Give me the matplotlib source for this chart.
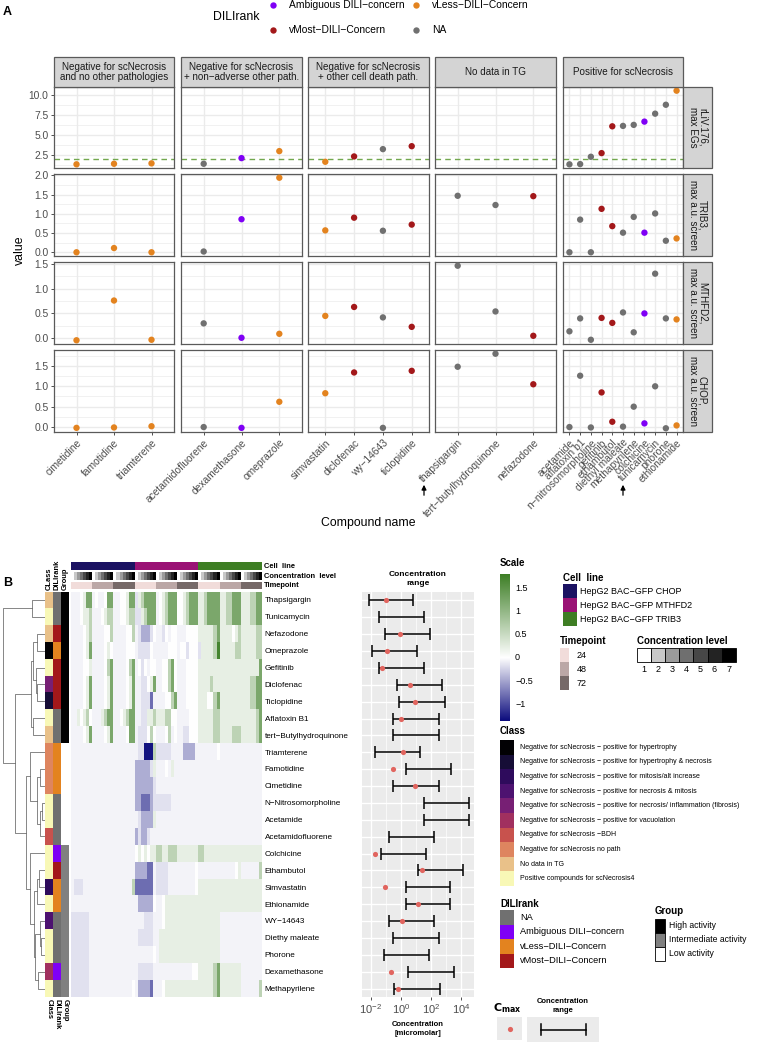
import numpy as np
import matplotlib
matplotlib.use('Agg')
import matplotlib.pyplot as plt
from matplotlib.colors import LinearSegmentedColormap, Normalize, ListedColormap, to_rgb
from matplotlib.patches import Rectangle

plt.rcParams['font.family'] = ['Liberation Sans', 'DejaVu Sans']

# ---------------- panel A data ----------------
facet_titles = ['Negative for scNecrosis\nand no other pathologies',
                'Negative for scNecrosis\n+ non\u2212adverse other path.',
                'Negative for scNecrosis\n+ other cell death path.',
                'No data in TG',
                'Positive for scNecrosis']
col_compounds = [
    ['cimetidine', 'famotidine', 'triamterene'],
    ['acetamidofluorene', 'dexamethasone', 'omeprazole'],
    ['simvastatin', 'diclofenac', 'wy\u221214643', 'ticlopidine'],
    ['thapsigargin', 'tert\u2212butylhydroquinone', 'nefazodone'],
    ['acetamide', 'aflatoxin b1', 'n\u2212nitrosomorpholine', 'gefitinib', 'ethambutol',
     'diethyl maleate', 'methapyrilene', 'colchicine', 'tunicamycin', 'phorone', 'ethionamide'],
]
dili_a = ['vLess', 'vLess', 'vLess', 'NA', 'Ambiguous', 'vLess', 'vLess', 'vMost', 'NA', 'vMost',
          'NA', 'NA', 'vMost', 'NA', 'NA', 'NA', 'vMost', 'vMost', 'NA', 'NA', 'Ambiguous', 'NA', 'NA', 'vLess']
rliv_max = [1.34, 1.41, 1.46, 1.41, 2.12, 3.0, 1.66, 2.33, 3.25, 3.62, np.nan, np.nan, np.nan,
            1.34, 1.37, 2.29, 2.75, 6.12, 6.17, 6.3, 6.71, 7.71, 8.83, 10.6]
trib3_a = [0.0, 0.11, 0.0, 0.02, 0.86, 1.94, 0.57, 0.9, 0.56, 0.72, 1.47, 1.23, 1.46,
           0.0, 0.85, 0.0, 1.13, 0.68, 0.51, 0.92, 0.51, 1.01, 0.30, 0.36]
mthfd2_a = [-0.04, 0.76, -0.03, 0.30, 0.01, 0.09, 0.45, 0.63, 0.42, 0.23, 1.46, 0.54, 0.05,
            0.14, 0.40, -0.03, 0.41, 0.31, 0.52, 0.12, 0.50, 1.30, 0.40, 0.38]
chop_a = [-0.02, -0.01, 0.02, 0.0, -0.02, 0.62, 0.83, 1.34, -0.02, 1.38, 1.48, 1.80, 1.05,
          0.0, 1.26, -0.01, 0.85, 0.13, 0.01, 0.5, 0.09, 1.0, -0.03, 0.04]
row_titles = ['rLiV.176,\nmax EGs', 'TRIB3,\nmax a.u. screen', 'MTHFD2,\nmax a.u. screen', 'CHOP,\nmax a.u. screen']
row_breaks = [[2.5, 5.0, 7.5, 10.0], [0, 0.5, 1.0, 1.5, 2.0], [0, 0.5, 1.0, 1.5], [0, 0.5, 1.0, 1.5]]
rliv_threshold = 2.04

dili_labels = {'Ambiguous': 'Ambiguous DILI\u2212concern', 'vLess': 'vLess\u2212DILI\u2212Concern',
               'vMost': 'vMost\u2212DILI\u2212Concern', 'NA': 'NA'}
dili_colors = {'Ambiguous': '#7F00F5', 'vLess': '#E3831F', 'vMost': '#A3181A', 'NA': '#707070'}

# ---------------- panel B data ----------------
hm_compounds = ['Thapsigargin', 'Tunicamycin', 'Nefazodone', 'Omeprazole', 'Gefitinib', 'Diclofenac',
                'Ticlopidine', 'Aflatoxin B1', 'tert\u2212Butylhydroquinone', 'Triamterene', 'Famotidine',
                'Cimetidine', 'N\u2212Nitrosomorpholine', 'Acetamide', 'Acetamidofluorene', 'Colchicine',
                'Ethambutol', 'Simvastatin', 'Ethionamide', 'WY\u221214643', 'Diethy maleate', 'Phorone',
                'Dexamethasone', 'Methapyrilene']
class_names = ['Negative for scNecrosis \u2212 positive for hypertrophy',
               'Negative for scNecrosis \u2212 positive for hypertrophy & necrosis',
               'Negative for scNecrosis \u2212 positive for mitosis/alt increase',
               'Negative for scNecrosis \u2212 positive for necrosis & mitosis',
               'Negative for scNecrosis \u2212 positive for necrosis/ inflammation (fibrosis)',
               'Negative for scNecrosis \u2212 positive for vacuolation',
               'Negative for scNecrosis \u2212BDH',
               'Negative for scNecrosis no path',
               'No data in TG',
               'Positive compounds for scNecrosis4']
class_colors = ['#020104', '#160D36', '#2E0B5C', '#4D1270', '#771F74', '#A1305F',
                '#C8524D', '#DE855F', '#E9C189', '#F8F8B6']
hm_class = [8, 9, 8, 0, 9, 4, 1, 9, 8, 7, 7, 7, 9, 9, 6, 9, 9, 2, 9, 3, 9, 9, 5, 9]
hm_dili = ['NA', 'NA', 'vMost', 'vLess', 'vMost', 'vMost', 'vMost', 'NA', 'NA', 'vLess', 'vLess', 'vLess',
           'NA', 'NA', 'NA', 'Ambiguous', 'vMost', 'vLess', 'vLess', 'NA', 'NA', 'NA', 'Ambiguous', 'NA']
hm_dili_order = ['NA', 'Ambiguous', 'vLess', 'vMost']
group_names = ['High activity', 'Intermediate activity', 'Low activity']
group_colors = ['#000000', '#808080', '#FFFFFF']
hm_group = [0] * 9 + [2] * 6 + [1] * 9

cell_lines = ['HepG2 BAC\u2212GFP CHOP', 'HepG2 BAC\u2212GFP MTHFD2', 'HepG2 BAC\u2212GFP TRIB3']
cell_colors = ['#1B1262', '#9A1275', '#3E7E24']
timepoints = ['24', '48', '72']
time_colors = ['#F1DCDA', '#BBA7A6', '#766968']
conc_levels = ['1', '2', '3', '4', '5', '6', '7']
conc_colors = ['#FFFFFF', '#C8C8C8', '#9B9B9B', '#6F6F6F', '#474747', '#232323', '#000000']

# heatmap values, one string per compound (cell line x timepoint x concentration level blocks)
code_values = {'N': -1.3, 'P': -0.8, 'p': -0.45, 'q': -0.16, 'r': -0.06, '.': 0.0,
               'l': 0.22, 'm': 0.6, 'g': 1.2, 'G': 1.7}
hm_rows = [
    "rrr.lgg r.rr.gg rr..lgg qlmgggg r.lmggg ..lmggg llmgggg llmmggg lllmmgg",
    "rrr.llm rrr.lmm rr..lmm qqlmggg r.lmggg ..lmggg llmgggg llmmggg lllmmgg",
    "rrrr.lm rrrr..m rrrr..m rqpppq. rrq.r.. rrr.... lllllmg llll.lm lllllmm",
    "rrrr.lg rrrr.l. rrrr... rqqqq.r rrrr... r..q... qllllmG lllllmm lllllmm",
    "rrrr..l rrrr.mg rrrr.mg r.q.r.. rr..mg. rrr.... lllllll lllllll llllllg",
    "rrrr.lg rrrr.lg rrrr.lg rrqq.lg rr..mg. rrr.... llllmll lllllll lllmmgg",
    "rrrr.lg rrrr.lg rrrr.lg rrqqqPr rrr..mg rrr.... lll..mg lllllll lllmmgg",
    "rrl.lm. rrrlmgg rr.lmgg rrqqllm lllmm.. rrrr... lllllmm lllllll lllllmg",
    "rrrr.lg rrrr.lg rrrr.gg rqqq.m. rrr.mr. rrqq... lllllmm llllmmm lllllmg",
    "rrrrrrr rrrrrrr rrrrrrr rqqNNNm qqqqqrr rrppppr rrrrrr. rrrrrrr rrrrrrr",
    "rrrrrrr rrrrrrr rrrrrrr pppppql rrr.rlr rrrrrrr rrrrrrr rrrrrrr rrrrrrr",
    "rrrrrrr rrrrrrr rrrrrrr ppppppq rrrrrrr rrrrrrr rrrrrrr rrrrrrr rrrrrrr",
    "rrrrrrr rrrrrrr rrrrrrr ppPPPpq qqqqqrr rrrrrrr rrrrrrr rrrrrrr rrrrrrr",
    "rrrrrrr rrrrrrr rrrrrrr rqppppl rrrrrrr rrrrrrr rrrrrrr rrrrrrr rrrrrrr",
    "rrrrrrr rrrrrrr rrrrrrr pqppqrr rrrrrrr rrrrrrr rrrrrrr rrrrrrr rrrrrrr",
    "rrrrrrr rrrrrrr rrrrrrr .l.l.ll mmllmmm lllllll mmlllll lllllll lllllll",
    "rrrrrrr rrrrrrr rrrrrrr ppppPPr qqqqrrr rrrrrr. rrrrrrr rrrrr.l rrrrrrm",
    "rqqqrrr rrrrrrr rrrrrrm PPPPPPr qqqqrrr rrrrrr. lllllll lllllll lllllll",
    "rrrrrrr rrrrrrr rrrrrrr rppppp. rr.llll lllllll lllllll lllllll lllllll",
    "qqqqqqr rrrrrrr rrrrrrr rrrqqqr rr.llll lllllll lllllll rrrrrrr rrrrrrr",
    "qqqqqqr rrrrrrr rrrrrrr rqqqqqr rllllll lllllll lllllll rrrrrrr rrrrrrr",
    "qqqqqqr rrrrrrr rrrrrrr rrrrrr. rllllll lllllll lllllll rrrrrrr rrrrrrr",
    "qqqqqqr rrrrrrr rrrrrrr rqqqqqr rrrrrrr rrrrr.. lllllmg lllllll rrrrrrr",
    "qqqqqqr rrrrrrr rrrrrr. rppppPr rr.llll lllllll lllllmg lllllll rrrrrrm",
]

# dendrogram: (height, left, right), leaves are row indices
dendro_tree = (1.0,
               (0.31, 0, 1),
               (0.70,
                (0.34, (0.29, (0.19, 2, 3), (0.21, 4, (0.19, 5, 6))), (0.29, 7, 8)),
                (0.45,
                 (0.36, 9, (0.18, (0.12, 10, 11), (0.12, (0.08, 12, 13), 14))),
                 (0.36, 15, (0.26, (0.19, (0.14, 16, 17), 18),
                             (0.24, (0.12, 19, (0.1, 20, 21)), (0.16, 22, 23)))))))

# concentration range (micromolar) and Cmax
conc_low = [0.0074, 0.034, 0.083, 0.0126, 0.035, 0.57, 0.81, 0.32, 0.32, 0.019, 2.3, 0.32,
            33, 33, 0.17, 0.05, 13, 2.1, 2.1, 0.16, 0.32, 0.079, 3.0, 0.38]
conc_high = [6.0, 35, 85, 12.6, 33, 500, 830, 316, 316, 18.6, 2200, 316,
             32000, 32000, 166, 49, 13800, 1900, 1900, 158, 316, 78, 3100, 390]
cmax = [0.105, np.nan, 0.89, 0.13, 0.056, 4.3, 8.3, 1.05, np.nan, 1.4, 0.30, 9.3,
        np.nan, np.nan, np.nan, 0.021, 24.5, 0.083, 13.8, 1.23, np.nan, np.nan, 0.22, 0.66]

# ---------------- figure ----------------
W, H = 758, 1042
fig = plt.figure(figsize=(W / 100, H / 100), dpi=100)


def ax_px(x0, y0, x1, y1):
    return fig.add_axes([x0 / W, 1 - y1 / H, (x1 - x0) / W, (y1 - y0) / H])


ov = fig.add_axes([0, 0, 1, 1])
ov.set_xlim(0, W)
ov.set_ylim(H, 0)
ov.axis('off')
ov.set_zorder(10)

TXT = '#1A1A1A'
GRID = '#EBEBEB'

# ---------- panel A ----------
col_x = [(54, 174), (181, 302), (308, 429), (435, 556), (563, 683)]
row_y = [(87, 168), (174, 256), (262, 344), (350, 432)]
row_vals = [np.array(rliv_max), np.array(trib3_a), np.array(mthfd2_a), np.array(chop_a)]

start = 0
for c, comps in enumerate(col_compounds):
    n = len(comps)
    idx = np.arange(start, start + n)
    start += n
    for r in range(4):
        allv = row_vals[r]
        lo, hi = np.nanmin(allv), np.nanmax(allv)
        pad = 0.05 * (hi - lo)
        ax = ax_px(col_x[c][0], row_y[r][0], col_x[c][1], row_y[r][1])
        ax.set_xlim(-0.6, n - 0.4)
        ax.set_ylim(lo - pad, hi + pad)
        br = row_breaks[r]
        step = br[1] - br[0]
        minors = [b - step / 2 for b in br] + [br[-1] + step / 2]
        for m in minors:
            ax.axhline(m, color=GRID, lw=0.5, zorder=0)
        for b in br:
            ax.axhline(b, color=GRID, lw=1.0, zorder=0)
        for x in range(n):
            ax.axvline(x, color=GRID, lw=1.0, zorder=0)
        if r == 0:
            ax.axhline(rliv_threshold, color='#72A84E', lw=1.0, ls=(0, (4, 3)), zorder=1)
        vals = allv[idx]
        cols = [dili_colors[dili_a[i]] for i in idx]
        ax.scatter(np.arange(n), vals, c=cols, s=21, linewidths=0, zorder=3)
        for s in ax.spines.values():
            s.set_color('#5A5A5A')
            s.set_linewidth(0.9)
        ax.set_yticks(br)
        ax.set_xticks(np.arange(n))
        ax.tick_params(length=2.5, width=0.6, color='#333333', labelsize=7.4,
                       labelcolor='#4D4D4D', pad=1.5)
        if c == 0:
            ax.set_yticklabels([f'{b:.1f}' for b in br])
        else:
            ax.tick_params(axis='y', length=0, labelleft=False)
        if r == 3:
            ax.set_xticklabels(comps, rotation=45, ha='right', rotation_mode='anchor')
        else:
            ax.tick_params(axis='x', length=0, labelbottom=False)

# strips
for c in range(5):
    x0, x1 = col_x[c]
    ov.add_patch(Rectangle((x0, 57), x1 - x0, 30, facecolor='#D4D4D4', edgecolor='#5A5A5A', lw=0.9))
    ov.text((x0 + x1) / 2, 72, facet_titles[c], ha='center', va='center', fontsize=7.1,
            color=TXT, linespacing=1.0)
for r in range(4):
    y0, y1 = row_y[r]
    ov.add_patch(Rectangle((683, y0), 29, y1 - y0, facecolor='#D4D4D4', edgecolor='#5A5A5A', lw=0.9))
    ov.text(697.5, (y0 + y1) / 2, row_titles[r], ha='center', va='center', fontsize=7.1,
            color=TXT, rotation=-90, linespacing=1.0)

ov.text(368, 523, 'Compound name', ha='center', va='center', fontsize=8.8, color='black')
ov.text(20, 250, 'value', ha='center', va='center', fontsize=8.8, rotation=90, color='black')
for xa in (424, 623):
    ov.annotate('', xy=(xa, 482), xytext=(xa, 498),
                arrowprops=dict(arrowstyle='-|>', color='black', lw=0.9, mutation_scale=7))

ov.text(3, 12, 'A', fontsize=9, fontweight='bold', ha='left', va='center')
ov.text(213, 17, 'DILIrank', fontsize=8.8, ha='left', va='center')
leg_pos = {'Ambiguous': (273, 5), 'vMost': (273, 30), 'vLess': (416, 5), 'NA': (416, 30)}
for k, (lx, ly) in leg_pos.items():
    ov.scatter([lx], [ly], s=21, color=dili_colors[k], linewidths=0)
    ov.text(lx + 16, ly, dili_labels[k], fontsize=7.4, ha='left', va='center', color='black')

# ---------- panel B ----------
ov.text(3, 583, 'B', fontsize=9, fontweight='bold', ha='left', va='center')

HM_TOP, HM_BOT = 591.5, 997
hm = np.array([[code_values[ch] for ch in row.replace(' ', '')] for row in hm_rows])
assert hm.shape == (24, 63)
vmin, vmax = -1.35, 1.8
cmap = LinearSegmentedColormap.from_list(
    'hm', [(0, '#0B0B7D'), (-vmin / (vmax - vmin), '#FFFFFF'), (1, '#3B7D23')])
norm = Normalize(vmin, vmax)

axh = ax_px(71, HM_TOP, 262, HM_BOT)
axh.imshow(hm, cmap=cmap, norm=norm, aspect='auto', interpolation='nearest')
axh.set_xticks([])
axh.yaxis.tick_right()
axh.set_yticks(np.arange(len(hm_compounds)))
axh.set_yticklabels(hm_compounds, fontsize=5.9)
axh.tick_params(axis='y', length=0, pad=2)
for s in axh.spines.values():
    s.set_visible(False)

# top annotations
cell_idx = np.repeat(np.arange(3), 21)[None, :]
conc_idx = np.tile(np.arange(7), 9)[None, :]
time_idx = np.tile(np.repeat(np.arange(3), 7), 3)[None, :]
for (y0, y1), idx, colors, lab in [((562, 570), cell_idx, cell_colors, 'Cell  line'),
                                   ((572, 580), conc_idx, conc_colors, 'Concentration  level'),
                                   ((582, 589), time_idx, time_colors, 'Timepoint')]:
    a = ax_px(71, y0, 262, y1)
    a.imshow(idx, cmap=ListedColormap(colors), vmin=-0.5, vmax=len(colors) - 0.5,
             aspect='auto', interpolation='nearest')
    a.axis('off')
    ov.text(264, (y0 + y1) / 2, lab, fontsize=5.4, fontweight='bold', ha='left', va='center')

# left annotations
ann = np.zeros((24, 3, 3))
for i in range(24):
    ann[i, 0] = to_rgb(class_colors[hm_class[i]])
    ann[i, 1] = to_rgb(dili_colors[hm_dili[i]])
    ann[i, 2] = to_rgb(group_colors[hm_group[i]])
axl = ax_px(45, HM_TOP, 69, HM_BOT)
axl.imshow(ann, aspect='auto', interpolation='nearest')
axl.axis('off')
for xc, lt, lb in [(49, 'CLass', 'Class'), (57, 'DILIrank', 'DILIrank'), (65, 'Group', 'Group')]:
    ov.text(xc, 590, lt, rotation=90, fontsize=5.4, fontweight='bold', ha='center', va='bottom')
    ov.text(xc, 999, lb, rotation=270, fontsize=5.4, fontweight='bold', ha='center', va='top')

# dendrogram
axd = ax_px(2, HM_TOP, 45, HM_BOT)
axd.set_xlim(1.02, 0)
axd.set_ylim(23.5, -0.5)
axd.axis('off')


def draw_tree(node):
    if isinstance(node, int):
        return node, 0.0
    h, a, b = node
    ya, ha = draw_tree(a)
    yb, hb = draw_tree(b)
    axd.plot([ha, h, h, hb], [ya, ya, yb, yb], color='#666666', lw=0.55)
    return (ya + yb) / 2, h


draw_tree(dendro_tree)

# concentration range panel
axc = ax_px(362, 592, 474, 997)
axc.set_facecolor('#EBEBEB')
axc.set_xscale('log')
axc.set_xlim(10 ** -2.57, 10 ** 4.84)
axc.set_ylim(23.5, -0.5)
for e in (-2, 0, 2, 4):
    axc.axvline(10.0 ** e, color='white', lw=1.0, zorder=0)
for e in (-1, 1, 3):
    axc.axvline(10.0 ** e, color='white', lw=0.5, zorder=0)
for i in range(24):
    axc.axhline(i, color='white', lw=1.0, zorder=0)
yy = np.arange(24)
lo = np.array(conc_low)
hi = np.array(conc_high)
mid = np.sqrt(lo * hi)
axc.errorbar(mid, yy, xerr=[mid - lo, hi - mid], fmt='none', ecolor='black',
             elinewidth=1.1, capsize=4.6, capthick=1.1, zorder=2)
axc.scatter(cmax, yy, s=14, color='#E1655F', linewidths=0, zorder=3)
axc.set_xticks([1e-2, 1, 1e2, 1e4])
axc.xaxis.set_minor_locator(matplotlib.ticker.NullLocator())
axc.set_yticks([])
axc.tick_params(axis='x', length=2.5, width=0.6, color='#333333', labelsize=8,
                labelcolor='#4D4D4D', pad=1)
for s in axc.spines.values():
    s.set_visible(False)
ov.text(418, 579, 'Concentration\nrange', fontsize=6, fontweight='bold', ha='center', va='center',
        linespacing=1.5)
ov.text(418, 1029, 'Concentration\n[micromolar]', fontsize=5.5, fontweight='bold', ha='center',
        va='center', linespacing=1.3)

# legends
# Scale
ov.text(500, 563, 'Scale', fontsize=7, fontweight='bold', ha='left', va='center')
axs = ax_px(500, 574, 510, 721)
grad = np.linspace(vmax, vmin, 256)[:, None]
axs.imshow(grad, cmap=cmap, norm=norm, aspect='auto', extent=(0, 1, vmin, vmax))
axs.axis('off')
for v in [1.5, 1, 0.5, 0, -0.5, -1]:
    ov.text(515, 658 - v * 46.6, f'{v:g}'.replace('-', '\u2212'), fontsize=6.5, ha='left', va='center')

# Cell line
ov.text(563, 578, 'Cell  line', fontsize=7, fontweight='bold', ha='left', va='center')
for i, (lab, col) in enumerate(zip(cell_lines, cell_colors)):
    y0 = 584 + i * 14
    ov.add_patch(Rectangle((563, y0), 14, 14, facecolor=col, edgecolor='none'))
    ov.text(580, y0 + 7, lab, fontsize=6.5, ha='left', va='center')

# Timepoint
ov.text(560, 641, 'Timepoint', fontsize=7, fontweight='bold', ha='left', va='center')
for i, (lab, col) in enumerate(zip(timepoints, time_colors)):
    y0 = 648 + i * 14
    ov.add_patch(Rectangle((560, y0), 9, 14, facecolor=col, edgecolor='none'))
    ov.text(577, y0 + 7, lab, fontsize=6.5, ha='left', va='center')

# Concentration level
ov.text(637, 641, 'Concentration level', fontsize=7, fontweight='bold', ha='left', va='center')
for i, (lab, col) in enumerate(zip(conc_levels, conc_colors)):
    x0 = 637 + i * 14.1
    ov.add_patch(Rectangle((x0, 648), 14.1, 14, facecolor=col, edgecolor='black', lw=0.6))
    ov.text(x0 + 7, 669, lab, fontsize=6.5, ha='center', va='center')

# Class
ov.text(500, 731, 'Class', fontsize=7, fontweight='bold', ha='left', va='center')
for i, (lab, col) in enumerate(zip(class_names, class_colors)):
    y0 = 740 + i * 14.6
    ov.add_patch(Rectangle((500, y0), 14, 14.6, facecolor=col, edgecolor='none'))
    ov.text(520, y0 + 7.3, lab, fontsize=5, ha='left', va='center')

# DILIrank
ov.text(500, 904, 'DILIrank', fontsize=7, fontweight='bold', ha='left', va='center')
for i, k in enumerate(hm_dili_order):
    y0 = 910 + i * 14.5
    ov.add_patch(Rectangle((500, y0), 14, 14.5, facecolor=dili_colors[k], edgecolor='none'))
    ov.text(520, y0 + 7.2, dili_labels[k], fontsize=6.7, ha='left', va='center')

# Group
ov.text(655, 911, 'Group', fontsize=7, fontweight='bold', ha='left', va='center')
for i, (lab, col) in enumerate(zip(group_names, group_colors)):
    y0 = 919 + i * 14
    ov.add_patch(Rectangle((655, y0), 10, 14, facecolor=col, edgecolor='black', lw=0.6))
    ov.text(669, y0 + 7, lab, fontsize=6.2, ha='left', va='center')

# Cmax
ov.text(493, 1008, r'$\mathbf{C_{max}}$', fontsize=8, ha='left', va='center')
ov.add_patch(Rectangle((497, 1017), 25, 23, facecolor='#EBEBEB', edgecolor='none'))
ov.scatter([509.5], [1028.5], s=14, color='#E1655F', linewidths=0)

# Concentration range key
ov.text(563, 1006, 'Concentration\nrange', fontsize=5.5, fontweight='bold', ha='center', va='center',
        linespacing=1.4)
ov.add_patch(Rectangle((527, 1017), 72, 25, facecolor='#EBEBEB', edgecolor='none'))
ov.plot([541, 586], [1029.5, 1029.5], color='black', lw=1.1)
ov.plot([541, 541], [1024, 1035], color='black', lw=1.1)
ov.plot([586, 586], [1024, 1035], color='black', lw=1.1)

fig.savefig('out.png', dpi=100)
